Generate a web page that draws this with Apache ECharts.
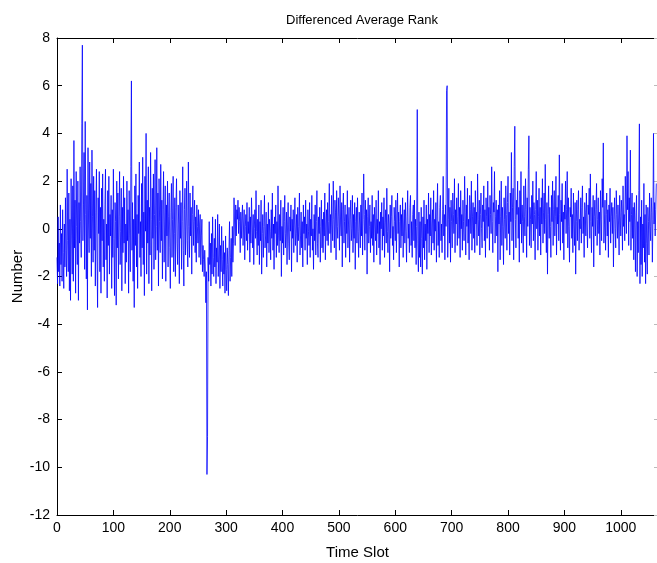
<!DOCTYPE html>
<html>
<head>
<meta charset="utf-8">
<script src="https://cdn.jsdelivr.net/npm/echarts@6/dist/echarts.min.js"></script>
<style>html,body{margin:0;padding:0;background:#fff}#c{width:657px;height:563px}</style>
</head>
<body>
<div id="c"></div>
<script>
const titleText = "Differenced Average Rank";
const xName = "Time Slot";
const yName = "Number";
const xTicks = [0,100,200,300,400,500,600,700,800,900,1000];
const yTicks = [-12,-10,-8,-6,-4,-2,0,2,4,6,8];
const values = [
-1.2,-2.3,0.5,-1.8,-0.6,-2.4,1.0,-1.5,-0.2,-2.2,0.8,-1.0,-2.5,0.2,-1.6,1.3,-0.9,-2.0,2.5,-0.5,
-1.8,1.5,-2.6,0.4,-3.0,2.1,-0.3,-1.9,1.8,-2.2,3.7,-0.8,1.2,-2.7,2.4,0.1,-1.5,2.0,-3.0,1.1,
-0.6,2.6,0.3,-1.2,4.4,7.7,-0.5,1.0,3.2,-1.7,4.5,0.6,-2.1,1.4,-3.4,3.4,0.2,-1.0,2.8,-0.4,
1.9,-2.0,3.3,0.5,-1.4,2.2,-0.9,1.6,-2.4,0.7,2.5,-1.1,-3.3,1.3,-0.2,2.4,-1.8,0.9,-2.7,1.7,
-0.5,2.3,-1.6,0.4,-2.2,1.0,2.5,-1.3,0.2,-2.9,1.6,-0.7,2.2,-1.9,0.6,-0.3,1.4,-2.5,0.8,-1.2,
2.5,-0.4,-2.8,1.1,0.3,-3.2,2.0,-0.8,1.5,-2.1,0.5,2.4,-1.5,-0.1,1.7,-2.6,0.9,-1.0,2.2,-0.6,
1.3,-2.3,0.2,-1.4,2.0,-0.5,0.8,-2.7,1.6,-0.3,-1.8,2.6,6.2,-0.9,1.1,-2.2,0.4,-3.3,1.8,-0.7,
2.3,-1.6,0.6,-2.5,1.4,-0.2,2.8,-1.2,0.3,-2.0,1.9,-0.8,3.0,-1.5,0.7,-2.8,2.2,-0.1,4.0,-1.9,
1.2,-0.6,2.6,-2.3,0.9,-1.1,3.2,0.4,-2.6,1.7,-0.4,2.3,-1.7,0.6,2.9,-1.3,0.1,3.4,-0.9,1.5,
-2.4,2.1,0.3,-1.0,2.7,-0.5,1.2,-2.1,0.8,2.4,-1.4,0.2,1.8,-2.2,1.0,-0.3,2.0,-1.6,0.5,1.5,
-0.8,-2.5,0.7,1.9,-1.2,0.4,2.2,-1.8,-0.2,1.3,-2.0,0.9,2.1,-0.6,-1.5,1.0,0.2,-2.3,1.6,-0.4,
1.1,-1.7,0.3,2.6,-0.9,-2.4,0.8,1.7,-1.1,0.2,2.0,-0.5,-1.6,2.8,0.1,-1.2,1.5,-0.3,0.9,-1.9,
0.6,1.8,-0.7,0.3,1.2,-1.0,0.5,-1.4,1.0,0.1,-0.6,0.8,-1.2,0.2,0.6,-1.5,-0.3,0.4,-1.8,-0.7,
-1.3,-2.0,-0.9,-1.6,-3.1,-1.8,-10.3,-8.7,-1.2,-2.2,0.3,-1.5,-0.6,-2.4,-0.2,-1.9,0.5,-1.2,-2.0,-0.4,
-1.6,0.4,-2.3,-0.8,-1.4,0.6,-2.0,-1.1,0.2,-2.5,-0.7,-1.8,0.1,-1.3,-2.4,-0.5,-1.9,-1.0,-2.7,-0.3,
-1.7,-2.6,-0.8,-1.5,-2.8,-0.9,0.3,-2.2,-1.2,-0.4,-2.0,0.1,-1.4,-0.6,1.3,0.2,-0.7,1.0,-0.3,0.8,
0.4,1.2,-0.2,0.9,0.3,-1.0,0.7,-0.4,0.5,1.0,-0.7,0.2,0.8,-1.3,0.1,0.6,-0.5,1.1,-0.9,0.3,
-0.2,0.9,-1.4,0.5,-0.6,1.3,0.2,-0.8,0.6,-1.5,0.0,0.8,-0.4,1.6,-0.1,-1.1,0.4,-0.7,1.0,-1.5,
0.3,-0.5,1.2,-1.9,-0.2,0.6,-1.2,0.1,1.4,-0.8,-0.3,0.7,-1.6,0.2,-0.6,1.1,-1.0,0.4,-0.1,-1.3,
0.8,-0.4,1.5,-0.9,0.2,-1.7,0.5,-0.2,1.0,-1.2,0.3,-0.7,1.8,-0.3,-1.0,0.6,-0.5,1.2,-2.0,0.1,
-0.6,0.9,-1.1,0.3,1.4,-0.8,-0.2,0.7,-1.5,0.2,1.1,-0.6,-1.3,0.5,-0.1,1.0,-1.8,0.4,-0.4,0.8,
-1.0,0.2,1.3,-0.7,-0.2,0.6,-1.4,0.9,-0.5,0.1,1.5,-1.1,-0.3,0.7,-0.8,0.3,-1.6,1.0,-0.2,0.5,
-0.9,1.2,-0.4,0.2,-1.5,0.8,-0.1,-0.7,1.1,-1.2,0.4,-0.3,1.4,-0.9,0.0,-1.7,0.6,-0.5,1.0,-1.1,
0.3,1.6,-0.6,-1.2,0.5,-0.2,0.9,-1.4,0.1,1.2,-0.8,0.4,-1.0,0.7,-0.3,1.5,-1.3,0.2,0.8,-0.5,
1.1,-0.7,0.3,1.9,-0.2,0.6,-1.0,1.4,0.2,-0.5,2.0,0.4,-0.8,1.2,0.7,-1.3,1.6,0.1,-0.4,1.3,
0.5,-0.9,1.8,0.2,-0.3,1.1,-1.6,0.8,1.5,-0.6,0.3,1.0,-1.2,0.6,-0.2,1.6,-0.8,0.2,0.9,-1.4,
0.4,1.2,-0.5,0.0,1.4,-1.0,0.6,-0.4,1.1,-1.7,0.3,0.9,-0.6,1.3,-0.1,-1.2,0.7,0.2,-0.8,1.0,
-0.3,1.5,-1.1,0.4,2.3,0.6,-0.9,1.2,-0.2,0.8,-1.9,0.5,1.3,-0.6,0.1,1.0,-1.0,0.3,-0.4,1.4,
-0.7,0.6,-1.4,0.9,0.2,-0.5,1.2,-1.1,0.4,-0.2,1.6,-0.8,0.3,-1.5,0.7,0.0,1.1,-0.9,0.5,-0.3,
1.3,-1.2,0.2,0.8,-0.6,1.7,-0.1,-1.0,0.6,0.2,-1.8,1.0,-0.4,0.5,1.4,-0.7,0.1,-1.3,0.9,0.3,
-0.5,1.2,-1.0,0.4,1.5,-0.2,0.7,-1.6,0.3,1.0,-0.8,0.6,-0.3,1.3,-1.2,0.2,0.8,-0.6,1.1,-0.1,
-1.4,0.5,1.6,-0.4,0.2,-1.0,0.9,1.4,-0.7,0.3,-1.2,0.6,1.0,-0.5,1.2,-0.8,0.4,-1.5,0.1,5.0,
-0.6,-1.8,0.7,-1.2,0.3,-1.6,0.9,-0.4,-1.9,0.5,-0.8,1.2,-1.3,0.2,-0.5,1.0,-1.7,0.4,-0.2,1.5,
-1.0,0.6,-0.3,1.3,-1.1,0.2,0.8,-0.6,1.6,-0.9,0.4,-0.1,1.1,-1.4,0.5,1.9,-0.7,0.3,-1.2,0.9,
1.4,-0.5,0.2,-1.0,0.8,2.2,-0.3,0.6,-1.3,1.0,0.1,5.8,6.0,-1.2,0.4,1.7,-0.6,0.9,-1.4,1.2,
0.3,-0.8,1.5,0.6,-0.2,2.1,-1.0,0.8,0.2,1.3,-0.7,0.5,1.9,-0.4,0.9,-1.2,1.6,0.0,0.6,-0.9,
1.2,0.3,-0.5,2.2,0.7,-1.1,1.0,0.1,1.7,-0.6,0.4,-1.3,1.4,0.8,-0.2,2.0,-0.9,0.5,1.1,-0.4,
0.9,-1.0,1.6,0.2,0.7,-0.7,2.3,0.4,-0.3,1.2,-1.1,0.6,1.5,0.0,-0.8,1.0,0.3,1.8,-0.5,0.8,
-1.2,1.3,0.5,-0.4,2.0,0.1,0.9,-0.9,1.4,0.6,-0.2,2.6,0.3,-1.0,1.1,0.7,2.4,-0.6,0.5,1.2,
-0.3,0.8,-1.8,1.0,0.2,1.6,-1.3,0.5,2.0,-0.7,0.9,0.1,-1.5,1.3,0.4,-0.4,1.8,0.6,-0.9,1.1,
2.2,-0.2,0.7,-1.1,1.5,0.3,3.2,-0.5,0.9,1.7,-1.3,2.6,4.3,0.4,-0.8,1.2,0.6,2.0,-0.4,0.9,
-1.4,1.6,0.2,2.4,-0.6,1.0,0.3,-1.0,1.8,0.5,-0.3,2.1,0.8,-1.2,1.3,0.1,2.5,3.9,-0.7,0.9,
0.4,-0.8,1.4,0.2,2.0,-0.5,1.1,0.6,-1.3,0.8,2.4,0.0,1.2,-0.9,0.5,1.7,-0.3,0.9,-1.1,1.3,
0.2,2.1,-0.6,0.7,1.5,-0.2,2.7,0.4,-1.0,1.1,-1.9,0.6,1.8,-0.4,0.9,0.1,-1.2,1.4,0.3,2.0,
-0.7,0.8,1.6,-0.3,0.5,2.2,-1.1,0.9,0.2,1.4,-0.5,3.1,0.6,-0.9,1.2,0.3,1.9,-0.6,0.7,-1.3,
1.0,0.4,2.0,-0.2,0.8,2.4,-0.8,1.3,0.1,-1.4,0.9,0.5,1.7,-0.4,0.6,-1.0,1.5,0.2,-0.7,1.1,
-1.9,0.3,1.2,-0.5,0.8,1.6,-0.9,0.4,0.0,1.3,-0.6,0.9,1.8,-0.2,0.5,-1.2,1.1,0.7,-0.3,1.5,
0.2,-0.8,1.0,0.6,1.7,-0.4,2.3,0.3,-1.0,0.9,0.1,1.4,-1.6,0.5,1.2,-0.3,0.8,1.9,-0.7,0.4,
1.3,-0.2,0.7,-1.1,1.6,0.4,-0.5,2.1,0.9,3.6,-0.6,0.2,1.2,-0.9,0.6,1.5,-0.3,0.8,-1.2,1.0,
0.3,1.7,-0.6,0.5,1.1,-0.2,0.9,-1.6,0.4,1.3,0.0,-0.8,1.6,0.6,-0.4,1.0,0.2,-1.1,1.4,0.5,
-0.3,1.2,0.7,-0.9,1.8,0.1,0.6,-0.5,2.2,1.0,-0.2,3.9,0.8,2.4,-0.7,1.3,0.3,3.3,-0.9,0.6,
1.5,-0.4,0.9,-1.3,1.1,0.2,-1.8,0.7,1.4,-2.0,0.3,-1.0,1.6,4.4,-2.3,0.5,-1.5,1.2,-2.0,0.2,
-0.8,1.9,-1.4,0.6,-2.3,1.0,-0.6,-1.9,0.9,0.3,-1.1,1.5,0.1,-0.5,1.3,0.7,-1.4,0.4,4.0,0.2,1.1,-0.3,0.8,1.9
];
const slots = values.map((v, i) => i);

const chart = echarts.init(document.getElementById('c'), null, {renderer: 'canvas'});
const FONT = 'Liberation Sans, Arial, Helvetica, sans-serif';
const lineStyle = {color: '#000', width: 1};
const tick = {show: true, inside: true, length: 5, lineStyle: {color: '#000', width: 1}};
chart.setOption({
  animation: false,
  backgroundColor: '#fff',
  title: {
    text: titleText, left: 357, top: 9, textAlign: 'center',
    textStyle: {fontFamily: FONT, fontSize: 13, fontWeight: 'normal', color: '#000'}
  },
  grid: {left: 57, right: -1, top: 38, bottom: 48, containLabel: false, outerBoundsMode: 'none'},
  xAxis: [{
    type: 'value', min: 0, max: 1066, interval: 100,
    name: xName, nameLocation: 'middle', nameGap: 30,
    nameTextStyle: {fontFamily: FONT, fontSize: 15, color: '#000'},
    axisLine: {show: true, onZero: false, lineStyle},
    axisTick: tick,
    axisLabel: {fontFamily: FONT, fontSize: 14, color: '#000', margin: 6,
      formatter: v => xTicks.includes(v) ? String(v) : ''},
    splitLine: {show: false}
  }, {
    type: 'value', min: 0, max: 1066, interval: 100, position: 'top',
    axisLine: {show: true, onZero: false, lineStyle},
    axisTick: tick, axisLabel: {show: false}, splitLine: {show: false}
  }],
  yAxis: [{
    type: 'value', min: -12, max: 8, interval: 2,
    name: yName, nameLocation: 'middle', nameGap: 32, nameRotate: 90, nameMoveOverlap: false,
    nameTextStyle: {fontFamily: FONT, fontSize: 15, color: '#000'},
    axisLine: {show: true, onZero: false, lineStyle},
    axisTick: tick,
    axisLabel: {fontFamily: FONT, fontSize: 14, color: '#000', margin: 7,
      formatter: v => yTicks.includes(v) ? String(v) : ''},
    splitLine: {show: false}
  }, {
    type: 'value', min: -12, max: 8, interval: 2, position: 'right',
    axisLine: {show: false, onZero: false},
    axisTick: {show: true, inside: true, length: 4, lineStyle: {color: '#bbb', width: 1}},
    axisLabel: {show: false}, splitLine: {show: false}
  }],
  series: [{
    type: 'line',
    data: slots.map((s, i) => [s, values[i]]),
    showSymbol: false, symbol: 'none', sampling: null,
    lineStyle: {color: '#0000ff', width: 0.8},
    clip: true
  }]
});
</script>
</body>
</html>
